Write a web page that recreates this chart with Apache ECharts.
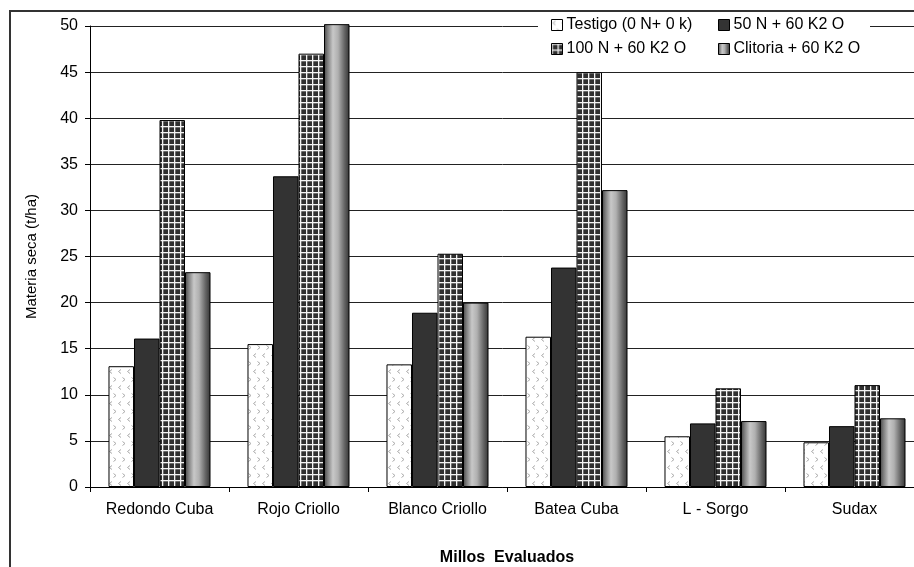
<!DOCTYPE html>
<html>
<head>
<meta charset="utf-8">
<script src="https://cdn.jsdelivr.net/npm/echarts@6/dist/echarts.min.js"></script>
<style>
html,body{margin:0;padding:0;background:#fff;}
#chart{width:914px;height:567px;}
</style>
</head>
<body>
<div id="chart"></div>
<script>
const categories = ['Redondo Cuba', 'Rojo Criollo', 'Blanco Criollo', 'Batea Cuba', 'L - Sorgo', 'Sudax'];
const seriesNames = ['Testigo (0 N+ 0 k)', '50 N + 60 K2 O', '100 N + 60 K2 O', 'Clitoria + 60 K2 O'];
const testigo = [13.1, 15.5, 13.3, 16.3, 5.5, 4.85];
const n50 = [16.1, 33.7, 18.9, 23.8, 6.9, 6.6];
const n100 = [39.8, 47.0, 25.3, 45.0, 10.7, 11.05];
const clitoria = [23.3, 50.2, 20.0, 32.2, 7.15, 7.45];
const yTicks = { min: 0, max: 50, interval: 5 };

const FONT = "'Liberation Sans', Arial, sans-serif";

function makeChevronPattern() {
  const c = document.createElement('canvas');
  c.width = 9; c.height = 16;
  const g = c.getContext('2d');
  g.fillStyle = '#fff'; g.fillRect(0, 0, 9, 16);
  g.strokeStyle = '#aaa'; g.lineWidth = 1;
  g.beginPath(); g.moveTo(4, 1.5); g.lineTo(1.5, 3.5); g.lineTo(4, 5.5); g.stroke();
  g.beginPath(); g.moveTo(5.5, 9.5); g.lineTo(8, 11.5); g.lineTo(5.5, 13.5); g.stroke();
  return c;
}
function makeGridPattern() {
  const c = document.createElement('canvas');
  c.width = 6; c.height = 6;
  const g = c.getContext('2d');
  g.fillStyle = '#303030'; g.fillRect(0, 0, 6, 6);
  g.fillStyle = '#f4f4f4';
  g.fillRect(0, 0, 6, 1.3);
  g.fillRect(0, 0, 1.3, 6);
  return c;
}
const chevron = { image: makeChevronPattern(), repeat: 'repeat' };
const gridPat = { image: makeGridPattern(), repeat: 'repeat' };
const cylGrad = new echarts.graphic.LinearGradient(0, 0, 1, 0, [
  { offset: 0, color: '#444' },
  { offset: 0.12, color: '#777' },
  { offset: 0.35, color: '#c8c8c8' },
  { offset: 0.55, color: '#b0b0b0' },
  { offset: 0.8, color: '#666' },
  { offset: 1, color: '#333' }
]);

const chart = echarts.init(document.getElementById('chart'), null, { renderer: 'canvas' });
const barStyle = (color) => ({ color: color, borderColor: '#000', borderWidth: 1 });
const legendCommon = {
  orient: 'vertical', top: 17, padding: 0, itemGap: 8, itemWidth: 11, itemHeight: 11,
  icon: 'rect', z: 10,
  itemStyle: { borderColor: '#000', borderWidth: 1 },
  textStyle: { fontFamily: FONT, fontSize: 16, color: '#000', padding: [0, 0, 0, -1] }
};
chart.setOption({
  animation: false,
  backgroundColor: '#fff',
  textStyle: { fontFamily: FONT },
  graphic: [
    { type: 'rect', z: 100, silent: true, shape: { x: 10, y: 11, width: 1000, height: 1000 },
      style: { fill: 'none', stroke: '#333', lineWidth: 2 } },
    { type: 'rect', z: 5, silent: true, shape: { x: 538, y: 14, width: 332, height: 50 },
      style: { fill: '#fff' } }
  ],
  legend: [
    Object.assign({}, legendCommon, { left: 551, data: [seriesNames[0], seriesNames[2]] }),
    Object.assign({}, legendCommon, { left: 718, data: [seriesNames[1], seriesNames[3]] })
  ],
  grid: { left: 90, top: 26, bottom: 80, right: -10, containLabel: false, outerBoundsMode: 'none' },
  xAxis: {
    type: 'category', data: categories,
    name: 'Millos  Evaluados', nameLocation: 'middle', nameGap: 63,
    nameTextStyle: { fontFamily: FONT, fontSize: 16, fontWeight: 'bold', color: '#000' },
    axisLine: { lineStyle: { color: '#000', width: 1 } },
    axisTick: { show: true, length: 5, interval: 0, lineStyle: { color: '#000' } },
    axisLabel: { fontFamily: FONT, fontSize: 16, color: '#000', margin: 15, interval: 0 }
  },
  yAxis: {
    type: 'value', min: yTicks.min, max: yTicks.max, interval: yTicks.interval,
    name: 'Materia seca (t/ha)', nameLocation: 'middle', nameGap: 51, nameRotate: 90,
    nameTextStyle: { fontFamily: FONT, fontSize: 15, color: '#000' },
    axisLine: { show: true, lineStyle: { color: '#000', width: 1 } },
    axisTick: { show: true, length: 5, lineStyle: { color: '#000' } },
    axisLabel: { fontFamily: FONT, fontSize: 16, color: '#000', margin: 12 },
    splitLine: { show: true, lineStyle: { color: '#222', width: 1 } }
  },
  series: [
    { name: seriesNames[0], type: 'bar', clip: false, data: testigo, barGap: '0%', barCategoryGap: '26.6%', itemStyle: barStyle(chevron) },
    { name: seriesNames[1], type: 'bar', clip: false, data: n50, itemStyle: barStyle('#333') },
    { name: seriesNames[2], type: 'bar', clip: false, data: n100, itemStyle: barStyle(gridPat) },
    { name: seriesNames[3], type: 'bar', clip: false, data: clitoria, itemStyle: barStyle(cylGrad) }
  ]
});
</script>
</body>
</html>
